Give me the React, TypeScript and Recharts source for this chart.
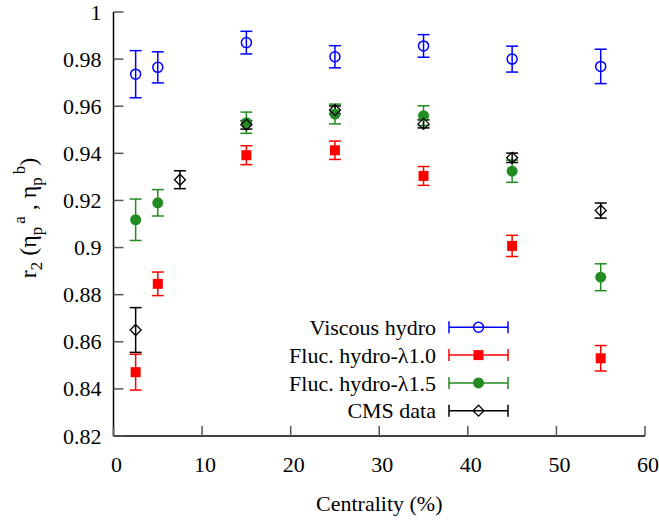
import React from 'react';
import {ScatterChart, Scatter, XAxis, YAxis, ErrorBar, Legend} from 'recharts';

// centrality bins (%)
const modelCentrality = [2.5, 5, 15, 25, 35, 45, 55];
const cmsCentrality = [2.5, 7.5, 15, 25, 35, 45, 55];

// r2 values, with symmetric errors
const viscousR2 = [0.9736, 0.9765, 0.9870, 0.9810, 0.9856, 0.9800, 0.9769];
const viscousErr = [0.0100, 0.0066, 0.0048, 0.0047, 0.0048, 0.0055, 0.0073];
const fluc10R2 = [0.8471, 0.8846, 0.9392, 0.9413, 0.9304, 0.9007, 0.8530];
const fluc10Err = [0.0076, 0.0050, 0.0040, 0.0039, 0.0040, 0.0045, 0.0054];
const fluc15R2 = [0.9118, 0.9190, 0.9530, 0.9567, 0.9560, 0.9324, 0.8874];
const fluc15Err = [0.0088, 0.0056, 0.0045, 0.0042, 0.0042, 0.0047, 0.0057];
const cmsR2 = [0.8650, 0.9288, 0.9521, 0.9584, 0.9525, 0.9381, 0.9157];
const cmsErr = [0.0095, 0.0038, 0.0018, 0.0017, 0.0017, 0.0020, 0.0032];

const xTicks = [0, 10, 20, 30, 40, 50, 60];
const yTicks = [0.82, 0.84, 0.86, 0.88, 0.9, 0.92, 0.94, 0.96, 0.98, 1];

const FONT = '"Liberation Serif", "DejaVu Serif", serif';
const textStyle = {fontFamily: FONT};
const TICK_LEN = 10;
const TICK_COLOR = '#555';

type Point = {x: number, y: number, err: number};
const toPoints = (xs: number[], ys: number[], es: number[]): Point[] =>
    xs.map((x, i) => ({x, y: ys[i], err: es[i]}));

type Series = {name: string, color: string, marker: string, data: Point[]};
const series: Series[] = [
    {name: 'Viscous hydro', color: '#0000ff', marker: 'openCircle', data: toPoints(modelCentrality, viscousR2, viscousErr)},
    {name: 'Fluc. hydro-\u03bb1.0', color: '#ff0000', marker: 'square', data: toPoints(modelCentrality, fluc10R2, fluc10Err)},
    {name: 'Fluc. hydro-\u03bb1.5', color: '#228b22', marker: 'dot', data: toPoints(modelCentrality, fluc15R2, fluc15Err)},
    {name: 'CMS data', color: '#000000', marker: 'diamond', data: toPoints(cmsCentrality, cmsR2, cmsErr)},
];

function Marker({kind, cx, cy, color, size = 5}: {kind: string, cx: number, cy: number, color: string, size?: number}) {
    if (kind === 'openCircle') {
        return <circle cx={cx} cy={cy} r={size} fill="none" stroke={color} strokeWidth={1.5}/>;
    }
    if (kind === 'square') {
        return <rect x={cx - size} y={cy - size} width={size * 2} height={size * 2} fill={color}/>;
    }
    if (kind === 'dot') {
        return <circle cx={cx} cy={cy} r={size + 0.5} fill={color}/>;
    }
    const d = size + 0.5;
    return <polygon points={`${cx},${cy - d} ${cx + d},${cy} ${cx},${cy + d} ${cx - d},${cy}`}
                    fill="none" stroke={color} strokeWidth={1.3}/>;
}

// ticks are drawn inward, like the gnuplot frame
const BottomTick = (props: any) => {
    const {x, y, payload} = props;
    const axisY = y - 20;
    return (
        <g>
            <line x1={x} x2={x} y1={axisY} y2={axisY - TICK_LEN} stroke={TICK_COLOR} strokeWidth={1.5}/>
            <text x={x + 3} y={axisY + 36} textAnchor="middle" fontSize={22} style={textStyle} fill="#000">
                {payload.value}
            </text>
        </g>
    );
};

const LeftTick = (props: any) => {
    const {x, y, payload} = props;
    const axisX = x + 12;
    return (
        <g>
            <line x1={axisX} x2={axisX + TICK_LEN} y1={y} y2={y} stroke={TICK_COLOR} strokeWidth={1.5}/>
            <text x={x} y={y + 7.5} textAnchor="end" fontSize={22} style={textStyle} fill="#000">
                {payload.value}
            </text>
        </g>
    );
};

const TopTick = (props: any) => {
    const {x, y} = props;
    return <line x1={x} x2={x} y1={y} y2={y + TICK_LEN} stroke={TICK_COLOR} strokeWidth={1.5}/>;
};

const RightTick = (props: any) => {
    const {x, y} = props;
    return <line x1={x} x2={x - TICK_LEN} y1={y} y2={y} stroke={TICK_COLOR} strokeWidth={1.5}/>;
};

const YLabel = (props: any) => {
    const {viewBox} = props;
    const cx = 36;
    const cy = viewBox.y + viewBox.height / 2 - 6;
    return (
        <text x={cx} y={cy} transform={`rotate(-90 ${cx} ${cy})`} textAnchor="middle"
              fontSize={24} style={textStyle} fill="#000">
            <tspan>r</tspan>
            <tspan dy={6} fontSize={17}>2</tspan>
            <tspan dy={-6}> (η</tspan>
            <tspan dy={6} fontSize={17}>p</tspan>
            <tspan dy={-17} dx={3} fontSize={17}>a</tspan>
            <tspan dy={11}> , η</tspan>
            <tspan dy={6} fontSize={17}>p</tspan>
            <tspan dy={-17} dx={3} fontSize={17}>b</tspan>
            <tspan dy={11}>)</tspan>
        </text>
    );
};

const XLabel = (props: any) => {
    const {viewBox} = props;
    return (
        <text x={viewBox.x + viewBox.width / 2} y={511} textAnchor="middle"
              fontSize={22} style={textStyle} fill="#000">
            Centrality (%)
        </text>
    );
};

const renderLegend = () => {
    const rowGap = 27.8;
    return (
        <svg width={270} height={115} style={{overflow: 'visible'}}>
            {series.map((s, i) => {
                const ly = 15.3 + i * rowGap;
                return (
                    <g key={s.name}>
                        <text x={186} y={ly + 7.7} textAnchor="end" fontSize={22} style={textStyle} fill="#000">
                            {s.name}
                        </text>
                        <line x1={199} x2={258} y1={ly} y2={ly} stroke={s.color} strokeWidth={1.5}/>
                        <line x1={199} x2={199} y1={ly - 6} y2={ly + 6} stroke={s.color} strokeWidth={1.5}/>
                        <line x1={258} x2={258} y1={ly - 6} y2={ly + 6} stroke={s.color} strokeWidth={1.5}/>
                        <Marker kind={s.marker} cx={228.5} cy={ly} color={s.color}/>
                    </g>
                );
            })}
        </svg>
    );
};

export default function App() {
    return (
        <div style={{position: 'absolute', left: 0, top: 0, background: '#fff', fontFamily: FONT}}>
            <ScatterChart width={659} height={524} margin={{top: 12, right: 14, bottom: 0, left: 0}}>
                <XAxis xAxisId="bottom" type="number" dataKey="x" domain={[0, 60]} ticks={xTicks}
                       allowDataOverflow interval={0} orientation="bottom" height={88}
                       tickSize={0} tickMargin={20} tick={BottomTick}
                       axisLine={{stroke: '#000', strokeWidth: 1.5}} label={<XLabel/>}/>
                <XAxis xAxisId="top" type="number" domain={[0, 60]} ticks={xTicks}
                       allowDataOverflow interval={0} orientation="top" height={0}
                       tickSize={0} tickMargin={0} tick={TopTick}
                       axisLine={{stroke: '#000', strokeWidth: 1.5}}/>
                <YAxis yAxisId="left" type="number" dataKey="y" domain={[0.82, 1]} ticks={yTicks}
                       allowDataOverflow interval={0} orientation="left" width={113.5}
                       tickSize={0} tickMargin={12} tick={LeftTick}
                       axisLine={{stroke: '#000', strokeWidth: 1.5}} label={<YLabel/>}/>
                <YAxis yAxisId="right" type="number" domain={[0.82, 1]} ticks={yTicks}
                       allowDataOverflow interval={0} orientation="right" width={0}
                       tickSize={0} tickMargin={0} tick={RightTick}
                       axisLine={{stroke: '#000', strokeWidth: 1.5}}/>
                <Legend layout="horizontal" verticalAlign="middle" align="center" content={renderLegend}
                        wrapperStyle={{left: 250, top: 312, width: 270, height: 115}}/>
                {series.map(s => (
                    <Scatter key={s.name} name={s.name} data={s.data} xAxisId="bottom" yAxisId="left"
                             isAnimationActive={false}
                             shape={(p: any) => <Marker kind={s.marker} cx={p.cx} cy={p.cy} color={s.color}/>}>
                        <ErrorBar dataKey="err" direction="y" width={6} stroke={s.color} strokeWidth={1.5}
                                  isAnimationActive={false}/>
                    </Scatter>
                ))}
            </ScatterChart>
        </div>
    );
}
